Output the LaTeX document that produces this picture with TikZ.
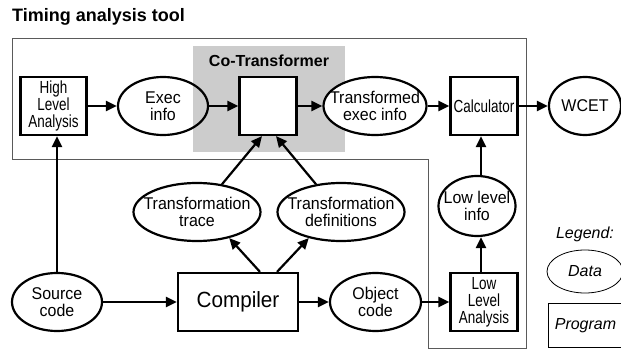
\documentclass[tikz,border=0pt]{standalone}
\usepackage{fontspec}
\setmainfont{Liberation Sans}
\newfontfamily\narrowfont[FakeStretch=0.77]{Liberation Sans}
\newfontfamily\labelfont[FakeStretch=0.94]{Liberation Sans}
\usetikzlibrary{shapes.geometric,arrows.meta}
\definecolor{cogray}{RGB}{204,204,204}
\definecolor{framegray}{RGB}{90,90,90}
\tikzset{
  prog/.style={draw, line width=2.2pt, inner sep=0pt, align=center},
  data/.style={draw, ellipse, line width=2.2pt, inner xsep=-30pt, inner ysep=-12pt, align=center},
  arr/.style={line width=2.2pt, -{Triangle[length=11pt,width=10pt]}},
  lbl/.style={font=\labelfont\fontsize{17}{17}\selectfont},
  nlbl/.style={font=\narrowfont\fontsize{17.5}{17}\selectfont},
  frame/.style={draw=framegray, line width=0.9pt},
  legendtxt/.style={font=\itshape\fontsize{16}{17}\selectfont}
}
\begin{document}
\begin{tikzpicture}[x=1pt,y=-1pt]
\clip (0,0) rectangle (621,350);
\fill[white] (0,0) rectangle (621,350);
% title
\node[anchor=base west, inner sep=0pt, font=\bfseries\fontsize{18}{20}\selectfont] (title) at (12,22) {Timing analysis tool};
% tool frame
\draw[frame] (12,38) -- (526,38) -- (526,348) -- (428,348) -- (428,159) -- (12,159) -- cycle;
% co-transformer area
\fill[cogray] (193,46) rectangle (345,152);
\node[font=\bfseries\fontsize{16}{17}\selectfont, inner sep=0pt] (cotitle) at (269,61) {Co-Transformer};
% top row
\node[prog, minimum width=66pt, minimum height=58pt, nlbl] (hla) at (53.5,106) {High\\Level\\Analysis};
\node[data, minimum width=90pt, minimum height=58pt, lbl] (exec) at (163,106) {Exec\\info};
\node[prog, minimum width=57pt, minimum height=58pt, fill=white] (cot) at (268,106) {};
\node[data, minimum width=103pt, minimum height=58pt, lbl, fill=white] (tei) at (375,106) {Transformed\\exec info};
\node[prog, minimum width=67pt, minimum height=58pt, nlbl] (calc) at (484,106) {Calculator};
\node[data, minimum width=72pt, minimum height=58pt, lbl] (wcet) at (585,106) {WCET};
% middle row
\node[data, minimum width=127pt, minimum height=58pt, lbl] (trace) at (197,212) {Transformation\\trace};
\node[data, minimum width=127pt, minimum height=58pt, lbl] (defs) at (341,212) {Transformation\\definitions};
\node[data, minimum width=77pt, minimum height=60pt, lbl] (lli) at (477,206) {Low level\\info};
% bottom row
\node[data, minimum width=90pt, minimum height=58pt, lbl] (src) at (57,302) {Source\\code};
\node[prog, minimum width=120pt, minimum height=58pt, font=\labelfont\fontsize{22}{23}\selectfont] (comp) at (238,302) {Compiler};
\node[data, minimum width=91pt, minimum height=58pt, lbl] (obj) at (375.5,302) {Object\\code};
\node[prog, minimum width=67pt, minimum height=58pt, nlbl] (lla) at (484,302) {Low\\Level\\Analysis};
% legend
\node[legendtxt, inner sep=0pt] (legend) at (585,234) {Legend:};
\node[draw, ellipse, line width=0.8pt, minimum width=76pt, minimum height=43pt, inner xsep=-20pt, inner ysep=-8pt, legendtxt] (ldata) at (585,271.5) {Data};
\draw[line width=0.8pt] (548,303) rectangle (640,347);
\node[legendtxt, inner sep=0pt] (lprog) at (585.5,326) {Program};
% connectors
\coordinate (ax) at (481,0);
\coordinate (sx) at (57,0);
\draw[arr] (hla) -- (exec);
\draw[arr] (exec) -- (cot);
\draw[arr] (cot) -- (tei);
\draw[arr] (tei) -- (calc);
\draw[arr] (calc) -- (wcet);
\draw[arr] (src.north -| sx) -- (hla.south -| sx);
\draw[arr] (src) -- (comp);
\draw[arr] (comp) -- (obj);
\draw[arr] (obj) -- (lla);
\draw[arr] (lla.north -| ax) -- (lli.south -| ax);
\draw[arr] (lli.north -| ax) -- (calc.south -| ax);
\draw[arr] ([xshift=22pt]comp.north) -- (trace.-39);
\draw[arr] ([xshift=39pt]comp.north) -- (defs.-141);
\draw[arr] (trace.48) -- ([xshift=-6pt]cot.south);
\draw[arr] (defs.132) -- ([xshift=8pt]cot.south);
\end{tikzpicture}
\end{document}
